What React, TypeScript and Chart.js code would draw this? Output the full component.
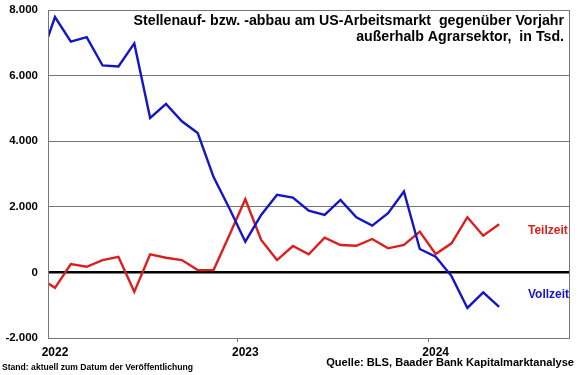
import React, { useEffect, useRef } from 'react';
import { Chart, registerables } from 'chart.js';

Chart.register(...registerables);

// Months from Dec 2021 (index -1) to May 2024 (index 28); Jan 2022 = 0
const monthIndex = [-1, 0, 1, 2, 3, 4, 5, 6, 7, 8, 9, 10, 11, 12, 13, 14, 15, 16, 17, 18, 19, 20, 21, 22, 23, 24, 25, 26, 27, 28];

// Vollzeit (full-time), change vs. prior year, thousands
const vollzeit = [6400, 7785, 7034, 7174, 6309, 6278, 6981, 4709, 5137, 4606, 4250, 2905, 1950, 936, 1752, 2364, 2281, 1884, 1752, 2211, 1682, 1425, 1804, 2465, 713, 477, -113, -1083, -612, -1052];

// Teilzeit (part-time), change vs. prior year, thousands
const teilzeit = [-156, -471, 254, 171, 376, 477, -593, 550, 447, 376, 70, 70, 1140, 2232, 988, 376, 804, 550, 1058, 835, 813, 1018, 734, 835, 1242, 560, 887, 1682, 1119, 1468];

const yearLabels = ['2022', '2023', '2024'];
const yearLabelIndex = [0, 12, 24];
const yearBoundaryIndex = [11.5, 23.5];

const yMin = -2000;
const yMax = 8000;
const yStep = 2000;

const titleLines = [
  'Stellenauf- bzw. -abbau am US-Arbeitsmarkt  gegenüber Vorjahr',
  'außerhalb Agrarsektor,  in Tsd.',
];
const seriesNames = ['Vollzeit', 'Teilzeit'];
const footLeft = 'Stand: aktuell zum Datum der Veröffentlichung';
const footRight = 'Quelle: BLS, Baader Bank Kapitalmarktanalyse';

const BLUE = '#1414c8';
const RED = '#dc1e1e';
const FONT = '"Liberation Sans", Arial, Helvetica, sans-serif';

function fmt(v: number): string {
  if (v === 0) return '0';
  const s = Math.abs(v).toString();
  const withDots = s.replace(/\B(?=(\d{3})+(?!\d))/g, '.');
  return (v < 0 ? '-' : '') + withDots;
}

const overlayPlugin = {
  id: 'overlay',
  afterDraw(chart: any) {
    const { ctx, chartArea } = chart;
    const { left, top, right, bottom } = chartArea;
    const x = chart.scales.x;
    ctx.save();
    // frame
    ctx.strokeStyle = '#777777';
    ctx.lineWidth = 1;
    ctx.strokeRect(left + 0.5, top + 0.5, right - left - 1, bottom - top);
    // year boundary tick marks
    ctx.beginPath();
    yearBoundaryIndex.forEach((v) => {
      const px = Math.round(x.getPixelForValue(v)) + 0.5;
      ctx.moveTo(px, bottom);
      ctx.lineTo(px, bottom + 4);
    });
    ctx.stroke();

    // title
    ctx.fillStyle = '#000';
    ctx.textBaseline = 'middle';
    ctx.textAlign = 'right';
    ctx.font = `bold 14.2px ${FONT}`;
    ctx.fillText(titleLines[0], right - 6, top + 11.5);
    ctx.fillText(titleLines[1], right - 6, top + 27.5);

    // series labels
    ctx.textAlign = 'left';
    ctx.font = `bold 12px ${FONT}`;
    ctx.fillStyle = RED;
    ctx.fillText(seriesNames[1], 528, 231);
    ctx.fillStyle = BLUE;
    ctx.fillText(seriesNames[0], 528, 295);

    // footers
    ctx.fillStyle = '#000';
    ctx.font = `bold 8.6px ${FONT}`;
    ctx.textAlign = 'left';
    ctx.fillText(footLeft, 2, 368);
    ctx.font = `bold 11.1px ${FONT}`;
    ctx.textAlign = 'right';
    ctx.fillText(footRight, 574, 363);
    ctx.restore();
  },
};

export default function App() {
  const ref = useRef<HTMLCanvasElement | null>(null);

  useEffect(() => {
    document.body.style.margin = '0';
    const canvas = ref.current;
    if (!canvas) return;
    const chart = new Chart(canvas, {
      type: 'line',
      data: {
        datasets: [
          {
            label: seriesNames[0],
            data: monthIndex.map((m, i) => ({ x: m, y: vollzeit[i] })),
            borderColor: BLUE,
            borderWidth: 2.4,
            pointRadius: 0,
            tension: 0,
            fill: false,
          },
          {
            label: seriesNames[1],
            data: monthIndex.map((m, i) => ({ x: m, y: teilzeit[i] })),
            borderColor: RED,
            borderWidth: 2.4,
            pointRadius: 0,
            tension: 0,
            fill: false,
          },
        ],
      },
      options: {
        animation: false,
        responsive: false,
        maintainAspectRatio: false,
        layout: { padding: { top: 10, right: 10, left: 0, bottom: 0 } },
        plugins: {
          legend: { display: false },
          title: { display: false },
          tooltip: { enabled: false },
        },
        scales: {
          x: {
            type: 'linear',
            min: -0.44,
            max: 32.47,
            afterFit: (s: any) => {
              s.height = 37;
              s.paddingLeft = 0;
              s.paddingRight = 0;
            },
            afterBuildTicks: (s: any) => {
              s.ticks = yearLabelIndex.map((v) => ({ value: v }));
            },
            grid: { display: false, drawTicks: false },
            border: { display: false },
            ticks: {
              autoSkip: false,
              maxRotation: 0,
              padding: 7,
              color: '#000',
              font: { family: FONT, size: 12, weight: 'bold' },
              callback: (v: any) => {
                const k = yearLabelIndex.indexOf(Number(v));
                return k >= 0 ? yearLabels[k] : '';
              },
            },
          },
          y: {
            min: yMin,
            max: yMax,
            afterFit: (s: any) => {
              s.width = 48;
              s.paddingTop = 0;
              s.paddingBottom = 0;
            },
            grid: {
              drawTicks: false,
              color: (c: any) => (c.tick && c.tick.value === 0 ? '#000000' : '#777777'),
              lineWidth: (c: any) => (c.tick && c.tick.value === 0 ? 2.6 : 1),
            },
            border: { display: false },
            ticks: {
              stepSize: yStep,
              padding: 10,
              color: '#000',
              font: { family: FONT, size: 11.5, weight: 'bold' },
              callback: (v: any) => fmt(Number(v)),
            },
          },
        },
      },
      plugins: [overlayPlugin],
    } as any);
    return () => chart.destroy();
  }, []);

  return (
    <div style={{ width: 580, height: 375, background: '#fff' }}>
      <canvas ref={ref} width={580} height={375} style={{ display: 'block' }} />
    </div>
  );
}
